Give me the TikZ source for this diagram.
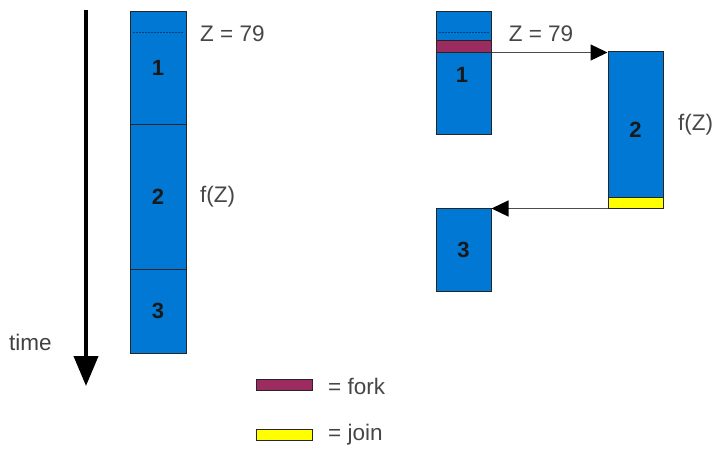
\documentclass[tikz,border=0pt]{standalone}
\usepackage{fontspec}
\setmainfont{Liberation Sans}
\usetikzlibrary{arrows.meta}
\definecolor{boxblue}{RGB}{0,120,212}
\definecolor{forkc}{RGB}{156,44,96}
\definecolor{joinc}{RGB}{255,255,0}
\definecolor{labgray}{RGB}{70,70,70}
\tikzset{
  blk/.style={draw=black!85, line width=1pt, fill=boxblue, minimum width=56pt, inner sep=0pt, font=\fontsize{22}{24}\selectfont\bfseries, text=black!90},
  bar/.style={draw=black!85, line width=1pt, minimum width=56pt, inner sep=0pt},
  lab/.style={font=\fontsize{22.5}{24}\selectfont, text=labgray, inner sep=0pt},
  flow/.style={draw=black!70, line width=1.3pt, -{Triangle[length=17pt,width=16pt,color=black]}},
  dots/.style={draw=black!45!boxblue, line width=0.8pt, dash pattern=on 2pt off 1pt}
}
\begin{document}
\begin{tikzpicture}[x=1pt,y=-1pt]
\useasboundingbox (0,0) rectangle (714,448);
% time arrow
\coordinate (t0) at (86,10);
\coordinate (t1) at (86,386);
\draw[line width=4pt, -{Triangle[length=30pt,width=24pt]}] (t0) -- (t1);
\node[lab, text=black!75, anchor=west] (time) at (9,342) {time};
% left column
\node[blk, minimum height=113pt] (L1) at (158,67.5) {1};
\node[blk, minimum height=145pt] (L2) at (158,196.5) {2};
\node[blk, minimum height=84pt] (L3) at (158,311) {3};
\draw[dots] ([xshift=3pt,yshift=-22pt]L1.north west) -- ([xshift=-3pt,yshift=-22pt]L1.north east);
\node[lab, anchor=west] (zl) at (200,34) {Z = 79};
\node[lab, anchor=west] (fl) at (200,197) {f(Z)};
% right
\node[blk, minimum width=55pt, minimum height=123pt] (R1) at (463.5,72.5) {};
\node[font=\fontsize{22}{24}\selectfont\bfseries, text=black!90, inner sep=0pt] (R1t) at (462,75) {1};
\draw[dots] ([xshift=3pt,yshift=-22pt]R1.north west) -- ([xshift=-3pt,yshift=-22pt]R1.north east);
\node[bar, fill=forkc, minimum width=55pt, minimum height=12pt] (fork) at (463.5,46) {};
\node[blk, minimum width=55pt, minimum height=157pt] (R2) at (635.5,129.5) {2};
\node[bar, fill=joinc, minimum width=55pt, minimum height=11pt] (join) at (635.5,202.5) {};
\node[blk, minimum width=55pt, minimum height=83pt] (R3) at (463.5,249.5) {3};
\draw[flow] (fork.south east) -- (fork.south east -| R2.west);
\draw[flow] (join.south west) -- (join.south west -| R3.east);
\node[lab] (zr) at (541,34) {Z = 79};
\node[lab, anchor=west] (fr) at (678,125) {f(Z)};
% legend
\node[bar, fill=forkc, minimum height=11pt] (lf) at (284,384.5) {};
\node[lab, anchor=west] (lft) at (328,386) {= fork};
\node[bar, fill=joinc, minimum height=11pt] (lj) at (284,434.5) {};
\node[lab, anchor=west] (ljt) at (328,435) {= join};
\end{tikzpicture}
\end{document}
